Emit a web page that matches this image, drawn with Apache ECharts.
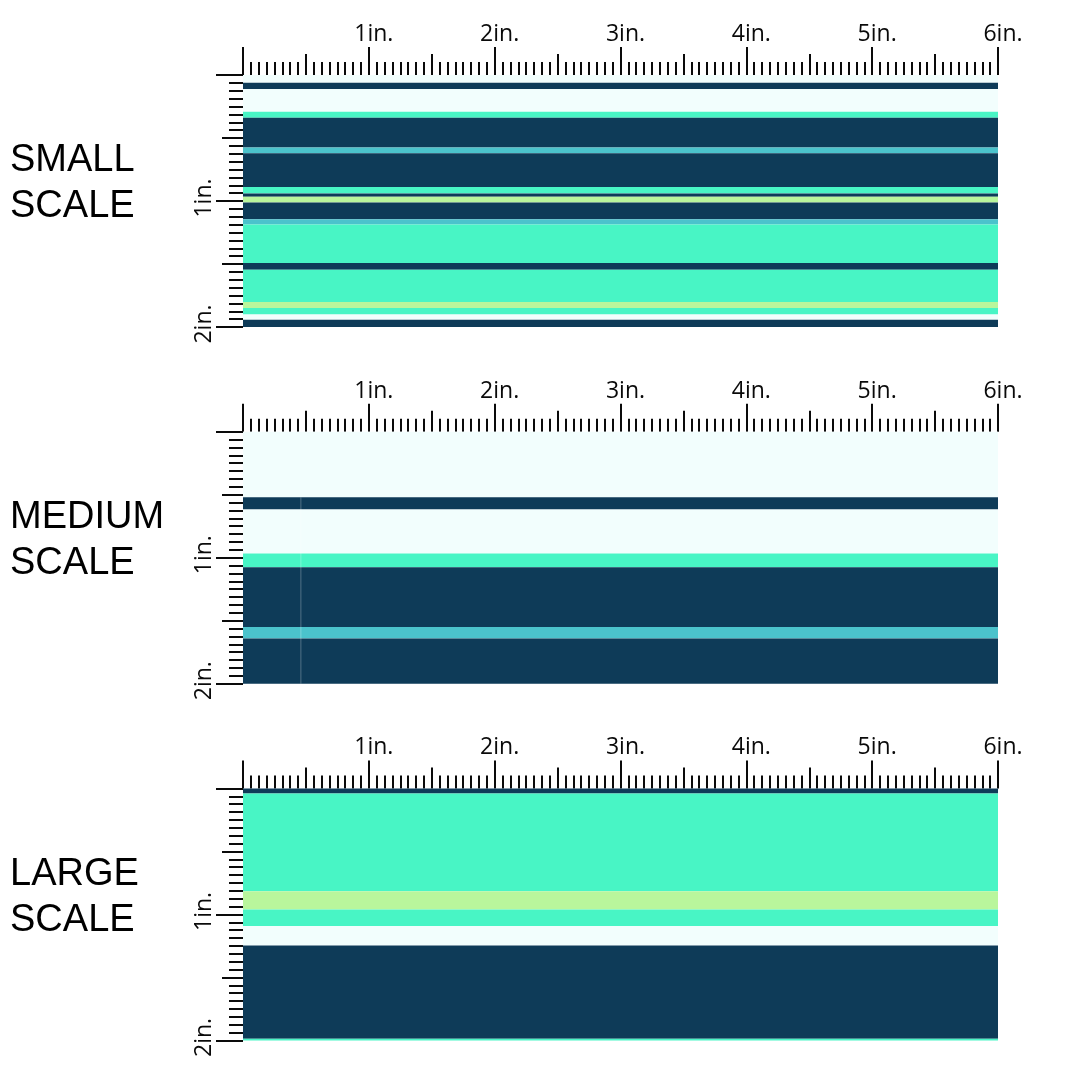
<!DOCTYPE html>
<html>
<head>
<meta charset="utf-8">
<script src="https://cdn.jsdelivr.net/npm/echarts@6/dist/echarts.min.js"></script>
<style>
html,body{margin:0;padding:0;background:#fff;}
#chart{width:1080px;height:1080px;}
</style>
</head>
<body>
<div id="chart"></div>
<script>
// ---- data (inches) ----
const panelNames = ['SMALL\nSCALE', 'MEDIUM\nSCALE', 'LARGE\nSCALE'];
const colorKeys = ['light', 'navy', 'green', 'teal', 'lime'];
const colorMap = {light:'#f2fefd', navy:'#0e3b58', green:'#48f5c5', teal:'#4bc3cc', lime:'#b9f69c'};
const widthInches = 6;
const heightInches = 2;
// [start, end, colorKey]
const smallStripes = [
  [0.000, 0.061, 'light'],
  [0.061, 0.111, 'navy'],
  [0.111, 0.292, 'light'],
  [0.292, 0.339, 'green'],
  [0.339, 0.575, 'navy'],
  [0.575, 0.622, 'teal'],
  [0.622, 0.888, 'navy'],
  [0.888, 0.940, 'green'],
  [0.940, 0.967, 'navy'],
  [0.967, 1.012, 'lime'],
  [1.012, 1.145, 'navy'],
  [1.145, 1.187, 'teal'],
  [1.187, 1.492, 'green'],
  [1.492, 1.545, 'navy'],
  [1.545, 1.802, 'green'],
  [1.802, 1.850, 'lime'],
  [1.850, 1.900, 'green'],
  [1.900, 1.942, 'light'],
  [1.942, 2.000, 'navy']
];
const mediumStripes = [
  [0.000, 0.521, 'light'],
  [0.521, 0.617, 'navy'],
  [0.617, 0.967, 'light'],
  [0.967, 1.075, 'green'],
  [1.075, 1.550, 'navy'],
  [1.550, 1.642, 'teal'],
  [1.642, 2.000, 'navy']
];
const largeStripes = [
  [0.000, 0.040, 'navy'],
  [0.040, 0.816, 'green'],
  [0.816, 0.962, 'lime'],
  [0.962, 1.092, 'green'],
  [1.092, 1.246, 'light'],
  [1.246, 1.986, 'navy'],
  [1.986, 2.000, 'green']
];
const mediumSeam = [[0.46, 0.521], [0.46, 2.0]];
const panels = [smallStripes, mediumStripes, largeStripes];

// ---- layout ----
const gridLeft = 243, gridWidth = 755, gridTop0 = 75, panelStep = 356.7, gridHeight = 252;
const inkColor = '#0a0a0a';
const labelFmt = v => (v === 0 ? '' : v + 'in.');

const grids = [], xAxes = [], yAxes = [], series = [], titles = [];
panels.forEach((stripes, i) => {
  const top = gridTop0 + i * panelStep;
  grids.push({left: gridLeft, top: top, width: gridWidth, height: gridHeight});
  const tickStyle = {color: inkColor, width: 2};
  // major x axis
  xAxes.push({
    gridIndex: i, type: 'value', position: 'top', min: 0, max: widthInches, interval: 1,
    axisLine: {show: false},
    axisTick: {show: true, length: 28, lineStyle: tickStyle},
    minorTick: {show: true, splitNumber: 16, length: 13, lineStyle: tickStyle},
    splitLine: {show: false}, minorSplitLine: {show: false},
    axisLabel: {formatter: labelFmt, fontSize: 23, fontFamily: 'Open Sans', color: inkColor, margin: 29, padding: [0, 0, 0, 10]}
  });
  // half-inch x axis
  xAxes.push({
    gridIndex: i, type: 'value', position: 'top', min: 0, max: widthInches, interval: 0.5,
    axisLine: {show: false},
    axisTick: {show: true, length: 21, lineStyle: tickStyle},
    splitLine: {show: false}, axisLabel: {show: false}
  });
  yAxes.push({
    gridIndex: i, type: 'value', position: 'left', inverse: true, min: 0, max: heightInches, interval: 1,
    axisLine: {show: false},
    axisTick: {show: true, length: 27, lineStyle: tickStyle},
    minorTick: {show: true, splitNumber: 16, length: 14, lineStyle: tickStyle},
    splitLine: {show: false}, minorSplitLine: {show: false},
    axisLabel: {formatter: labelFmt, rotate: 90, fontSize: 23, fontFamily: 'Open Sans', color: inkColor, margin: 27, padding: [0, 0, 0, 6], hideOverlap: false}
  });
  yAxes.push({
    gridIndex: i, type: 'value', position: 'left', inverse: true, min: 0, max: heightInches, interval: 0.5,
    axisLine: {show: false},
    axisTick: {show: true, length: 21, lineStyle: tickStyle},
    splitLine: {show: false}, axisLabel: {show: false}
  });
  series.push({
    type: 'custom', xAxisIndex: 2 * i, yAxisIndex: 2 * i,
    data: stripes.map(s => [s[0], s[1], colorKeys.indexOf(s[2])]),
    encode: {y: [0, 1]},
    renderItem: function (params, api) {
      const a = api.coord([0, api.value(0)]);
      const b = api.coord([widthInches, api.value(1)]);
      return {
        type: 'rect',
        shape: {x: a[0], y: a[1], width: b[0] - a[0], height: b[1] - a[1]},
        style: {fill: colorMap[colorKeys[api.value(2)]]}
      };
    },
    z: 1
  });
  titles.push({
    text: panelNames[i], left: 10, top: 138 + i * panelStep, padding: 0,
    textStyle: {fontSize: 38, fontFamily: 'Liberation Sans', fontWeight: 'normal', color: '#000', lineHeight: 46}
  });
});
series.push({
  type: 'line', xAxisIndex: 2, yAxisIndex: 2, data: mediumSeam, symbol: 'none',
  lineStyle: {color: 'rgba(255,255,255,0.28)', width: 1}, z: 3, silent: true
});

const chart = echarts.init(document.getElementById('chart'), null, {renderer: 'canvas'});
chart.setOption({
  animation: false,
  backgroundColor: '#ffffff',
  title: titles,
  grid: grids,
  xAxis: xAxes,
  yAxis: yAxes,
  series: series
});
</script>
</body>
</html>
